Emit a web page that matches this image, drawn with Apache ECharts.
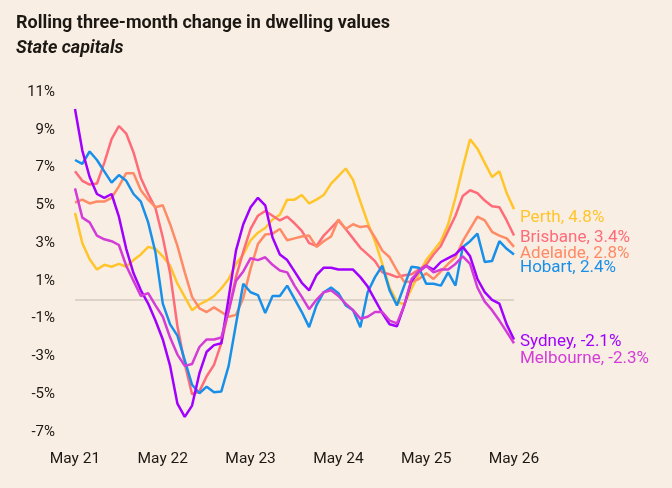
<!DOCTYPE html>
<html>
<head>
<meta charset="utf-8">
<script src="https://cdn.jsdelivr.net/npm/echarts@6/dist/echarts.min.js"></script>
<style>
  html, body { margin: 0; padding: 0; background: #f9eee3; }
  #chart { width: 672px; height: 488px; }
</style>
</head>
<body>
<div id="chart"></div>
<script>
// monthly, May 21 .. May 26
const monthNames = ['Jan', 'Feb', 'Mar', 'Apr', 'May', 'Jun', 'Jul', 'Aug', 'Sep', 'Oct', 'Nov', 'Dec'];
const months = [];
for (let i = 0; i <= 60; i++) {
    const m = (4 + i) % 12;
    const y = 21 + Math.floor((4 + i) / 12);
    months.push(monthNames[m] + ' ' + y);
}

const yTicks = [-7, -5, -3, -1, 1, 3, 5, 7, 9, 11];

const perth = [4.6, 3.0, 2.15, 1.6, 1.85, 1.75, 1.9, 1.75, 2.1, 2.4, 2.8, 2.7, 2.3, 1.8, 0.85, 0.15, -0.55, -0.25, -0.05, 0.2,
    0.6, 1.1, 1.9, 2.4, 3.15, 3.55, 3.8, 4.25, 4.5, 5.3, 5.3, 5.55, 5.1, 5.3, 5.55, 6.15, 6.55, 6.95, 6.35, 5.2,
    4.1, 3.1, 1.9, 0.65, -0.1, -0.25, 0.6, 1.35, 2.1, 2.6, 3.1, 4.0, 5.4, 7.0, 8.5, 8.0, 7.25, 6.5, 6.8, 5.65, 4.8];
const brisbane = [6.8, 6.3, 6.1, 6.15, 7.25, 8.5, 9.2, 8.8, 7.8, 6.45, 5.6, 4.85, 3.3, 1.4, -1.4, -3.4, -5.0, -4.85, -4.05, -3.45,
    -2.3, -0.55, 1.2, 2.55, 3.75, 4.45, 4.7, 4.45, 4.2, 4.4, 4.05, 3.65, 3.0, 2.85, 3.4, 3.8, 4.2, 3.75, 3.25, 2.75,
    2.4, 2.05, 1.45, 1.35, 1.2, 1.3, 1.35, 1.6, 1.85, 2.4, 2.85, 3.65, 4.45, 5.5, 5.8, 5.65, 5.25, 4.95, 4.9, 4.2, 3.4];
const adelaide = [5.15, 5.3, 5.1, 5.2, 5.2, 5.4, 6.0, 6.7, 6.7, 5.8, 5.3, 4.9, 5.0, 4.0, 2.85, 1.45, 0.15, -0.45, -0.65, -0.4,
    -0.65, -0.9, -0.8, 0.1, 1.65, 2.95, 3.45, 3.5, 3.75, 3.15, 3.25, 3.35, 3.4, 2.8, 3.1, 3.35, 4.25, 3.75, 4.0, 3.85,
    3.9, 3.3, 2.6, 2.25, 1.55, 0.95, 0.95, 1.1, 1.4, 1.1, 1.5, 1.9, 2.25, 3.1, 3.75, 4.4, 4.2, 3.6, 3.4, 3.25, 2.8];
const hobart = [7.4, 7.2, 7.85, 7.4, 6.8, 6.2, 6.6, 6.3, 5.6, 5.2, 4.1, 2.5, -0.2, -1.3, -1.9, -3.2, -4.5, -4.95, -4.6, -4.9,
    -4.85, -3.5, -1.3, 0.85, 0.4, 0.25, -0.7, 0.2, 0.2, 0.75, 0.05, -0.65, -1.45, -0.3, 0.4, 0.65, 0.35, -0.3, -0.55, -1.45,
    0.4, 1.2, 1.8, 0.5, -0.3, 0.75, 1.75, 1.7, 0.85, 0.85, 0.75, 1.45, 0.75, 2.8, 3.1, 3.5, 2.0, 2.05, 3.1, 2.7, 2.4];
const sydney = [10.1, 7.9, 6.5, 5.6, 5.4, 5.6, 4.4, 2.7, 1.4, 0.5, -0.2, -1.1, -2.1, -3.5, -5.5, -6.2, -5.6, -3.9, -2.75, -2.4,
    -2.3, 0.1, 2.6, 4.0, 4.9, 5.4, 5.0, 3.3, 2.4, 2.1, 1.5, 0.9, 0.5, 1.3, 1.7, 1.7, 1.6, 1.6, 1.6, 1.2,
    0.7, 0.0, -0.7, -1.3, -1.4, -0.3, 1.0, 1.5, 1.8, 1.6, 2.0, 2.2, 2.4, 2.8, 2.3, 1.1, 0.4, 0.0, -0.2, -1.3, -2.1];
const melbourne = [5.9, 4.35, 4.1, 3.4, 3.2, 3.1, 2.9, 1.8, 1.0, 0.2, 0.35, -0.3, -0.9, -2.0, -2.9, -3.5, -3.4, -2.5, -2.1, -2.1,
    -2.0, -0.6, 1.0, 1.5, 2.2, 2.1, 2.25, 1.85, 1.55, 1.45, 0.75, 0.15, -0.5, 0.0, 0.4, 0.5, 0.2, -0.2, -0.55, -1.0,
    -0.9, -0.65, -0.65, -1.1, -1.25, -0.3, 1.1, 1.5, 1.8, 1.45, 1.6, 1.6, 1.9, 2.3, 1.9, 0.65, -0.1, -0.55, -1.1, -1.7, -2.3];

const textColor = '#1c1814';

function line(name, data, color, dy) {
    return {
        name: name,
        type: 'line',
        data: data,
        symbol: 'none',
        lineStyle: { color: color, width: 2.5 },
        itemStyle: { color: color },
        z: 3,
        endLabel: {
            show: true,
            color: color,
            fontSize: 17,
            fontFamily: 'Roboto',
            distance: 6,
            offset: [0, dy],
            formatter: (p) => name + ', ' + p.value.toFixed(1) + '%'
        }
    };
}

const chart = echarts.init(document.getElementById('chart'));
const series = [
    line('Perth', perth, '#ffc52b', 9),
    line('Brisbane', brisbane, '#ff6b78', 2),
    line('Adelaide', adelaide, '#ff8a66', 7),
    line('Hobart', hobart, '#1890ea', 13),
    line('Sydney', sydney, '#a100ff', 2),
    line('Melbourne', melbourne, '#d43cd8', 16)
];
// zero line
series[0].markLine = {
    silent: true,
    symbol: 'none',
    label: { show: false },
    lineStyle: { color: '#ddd3c8', width: 2, type: 'solid' },
    data: [{ yAxis: 0 }],
    z: 1
};

chart.setOption({
    backgroundColor: '#f9eee3',
    animation: false,
    title: {
        text: 'Rolling three-month change in dwelling values',
        subtext: 'State capitals',
        left: 11,
        top: 9,
        itemGap: 7,
        textStyle: { fontFamily: 'Roboto', fontWeight: 'bold', fontSize: 18, color: textColor },
        subtextStyle: { fontFamily: 'Roboto', fontWeight: 'bold', fontStyle: 'italic', fontSize: 18, color: textColor }
    },
    grid: { left: 75, right: 158, top: 92, bottom: 56 },
    xAxis: {
        type: 'category',
        data: months,
        boundaryGap: false,
        axisLine: { show: false },
        axisTick: { show: false },
        splitLine: { show: false },
        axisLabel: {
            interval: 11,
            margin: 19,
            color: textColor,
            fontSize: 15.5,
            fontFamily: 'Roboto'
        }
    },
    yAxis: {
        type: 'value',
        min: -7,
        max: 11,
        axisLine: { show: false },
        axisTick: { show: false },
        splitLine: { show: false },
        axisLabel: {
            customValues: yTicks,
            margin: 20,
            color: textColor,
            fontSize: 15,
            fontFamily: 'Roboto',
            formatter: (v) => v + '%'
        }
    },
    series: series
});
</script>
</body>
</html>
